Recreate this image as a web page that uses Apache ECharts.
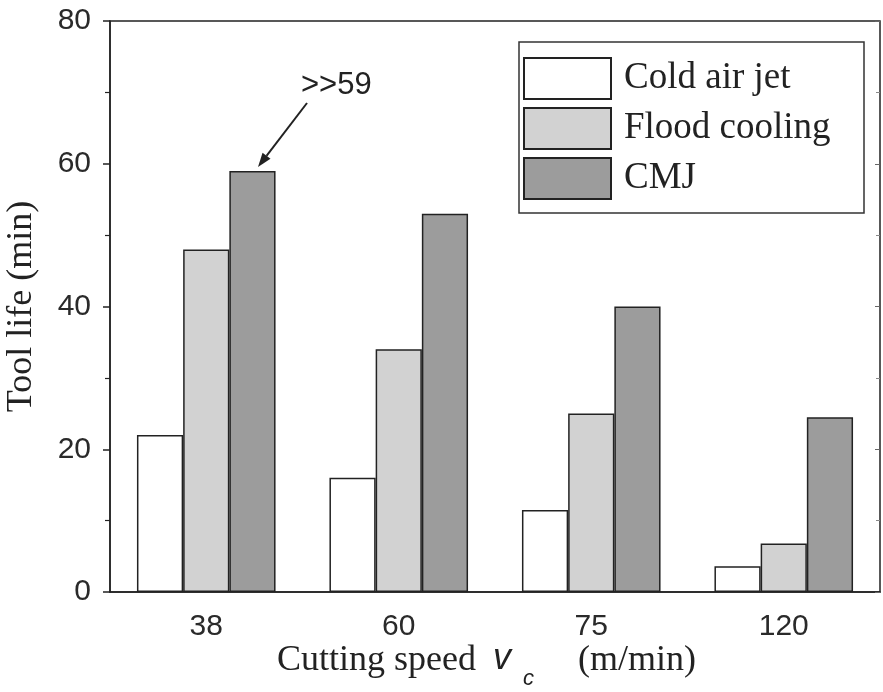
<!DOCTYPE html>
<html>
<head>
<meta charset="utf-8">
<script src="https://cdn.jsdelivr.net/npm/echarts@6/dist/echarts.min.js"></script>
<style>
  html, body { margin: 0; padding: 0; background: #fff; }
  #chart { width: 883px; height: 692px; }
</style>
</head>
<body>
<div id="chart"></div>
<script>
// tool life vs cutting speed, three cooling modes
const speeds = ["38", "60", "75", "120"];
const coldAirJet = [22, 16, 11.5, 3.6];
const floodCooling = [48, 34, 25, 6.8];
const cmj = [59, 53, 40, 24.5];
const yTicks = {min: 0, max: 80, step: 20};

const INK = "#222";
const SERIF = "'Liberation Serif', 'Times New Roman', serif";
const SANS = "'Liberation Sans', Arial, sans-serif";

const chart = echarts.init(document.getElementById("chart"));

function barSeries(name, data, color) {
  return {
    name: name,
    type: "bar",
    data: data,
    barGap: "0%",
    barCategoryGap: "28%",
    itemStyle: {color: color, borderColor: INK, borderWidth: 1.5},
    emphasis: {disabled: true},
  };
}

chart.setOption({
  animation: false,
  grid: {left: 110, right: 3, top: 21, bottom: 100, outerBoundsMode: "none", containLabel: false,
         show: true, borderColor: INK, borderWidth: 1.5},
  legend: {
    orient: "vertical",
    left: 519, top: 42,
    padding: [15, 20, 13, 4],
    borderColor: "#333", borderWidth: 1.5,
    itemWidth: 87, itemHeight: 41, itemGap: 7,
    icon: "rect",
    selectedMode: false,
    textStyle: {fontFamily: SERIF, fontSize: 37, color: INK, lineHeight: 43, padding: [0, 0, 0, 8], width: 220},
  },
  xAxis: [{
    type: "category",
    data: speeds,
    axisLine: {lineStyle: {color: INK, width: 1.5}},
    axisTick: {inside: true, alignWithLabel: true, length: 4, lineStyle: {color: INK}},
    axisLabel: {fontFamily: SANS, fontSize: 30, color: "#2a2a2a", margin: 20},
  }, {
    type: "category",
    data: speeds,
    position: "top",
    axisLine: {show: false},
    axisTick: {inside: true, alignWithLabel: true, length: 4, lineStyle: {color: INK}},
    axisLabel: {show: false},
  }],
  yAxis: [{
    type: "value",
    min: yTicks.min, max: yTicks.max, interval: yTicks.step,
    splitLine: {show: false},
    axisLine: {show: true, lineStyle: {color: INK, width: 1.5}},
    axisTick: {show: true, inside: false, length: 7, lineStyle: {color: INK, width: 1.5}},
    minorTick: {show: true, splitNumber: 2, length: 5, lineStyle: {color: INK, width: 1.2}},
    axisLabel: {fontFamily: SANS, fontSize: 30, color: "#2a2a2a", margin: 19},
    name: "Tool life (min)",
    nameLocation: "middle",
    nameRotate: 90,
    nameGap: 70,
    nameTextStyle: {fontFamily: SERIF, fontSize: 36, color: INK},
  }, {
    type: "value",
    position: "right",
    min: yTicks.min, max: yTicks.max, interval: yTicks.step,
    splitLine: {show: false},
    axisLine: {show: false},
    axisTick: {show: true, inside: true, length: 5, lineStyle: {color: "#666"}},
    minorTick: {show: true, splitNumber: 2, length: 4, lineStyle: {color: "#888"}},
    axisLabel: {show: false},
  }],
  series: [
    barSeries("Cold air jet", coldAirJet, "#ffffff"),
    barSeries("Flood cooling", floodCooling, "#d2d2d2"),
    barSeries("CMJ", cmj, "#9c9c9c"),
  ],
});

// x axis title with italic v and subscript c, plus the >>59 note
const tipY = chart.convertToPixel({yAxisIndex: 0}, cmj[0]) - 4;
const tipX = 258, tailX = 307, tailY = 103;
const ang = Math.atan2(tipY - tailY, tipX - tailX);
const head = 14, half = 5;
const bx = tipX - head * Math.cos(ang), by = tipY - head * Math.sin(ang);
const px = -Math.sin(ang) * half, py = Math.cos(ang) * half;

chart.setOption({
  graphic: [
    {type: "text", left: 277, top: 643, style: {text: "Cutting speed", font: "36px " + SERIF, fill: INK}},
    {type: "text", left: 493, top: 641, style: {text: "v", font: "italic 36px " + SANS, fill: INK}},
    {type: "text", left: 523, top: 668, style: {text: "c", font: "italic 22px " + SANS, fill: INK}},
    {type: "text", left: 578, top: 643, style: {text: "(m/min)", font: "36px " + SERIF, fill: INK}},
    {type: "text", left: 301, top: 70, style: {text: ">>59", font: "31px " + SANS, fill: INK}},
    {type: "line", shape: {x1: tailX, y1: tailY, x2: bx, y2: by}, style: {stroke: INK, lineWidth: 2}},
    {type: "polygon", shape: {points: [[tipX, tipY], [bx + px, by + py], [bx - px, by - py]]}, style: {fill: INK}},
  ],
});
</script>
</body>
</html>
